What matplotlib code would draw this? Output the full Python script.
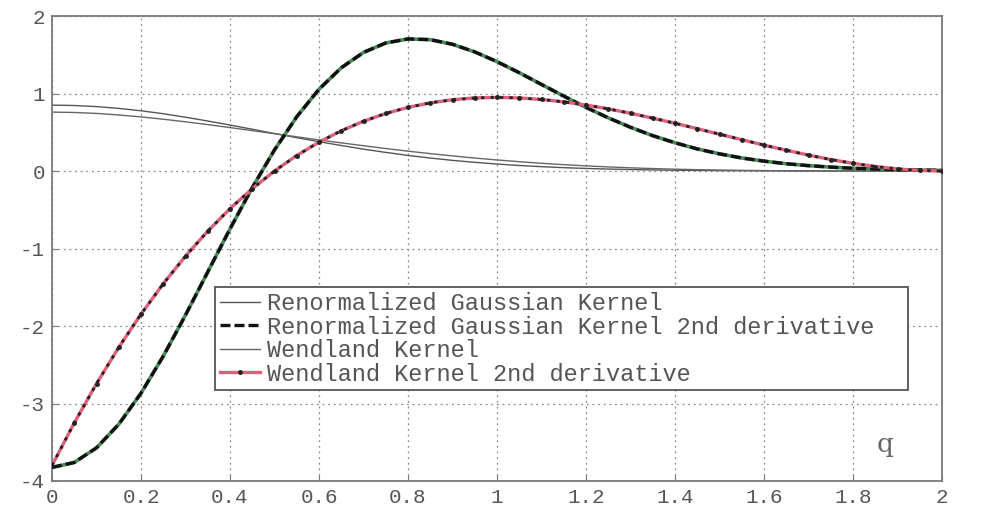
import matplotlib
matplotlib.use("Agg")
import matplotlib.pyplot as plt

# q values (read at 0.05 steps)
q = [0.00, 0.05, 0.10, 0.15, 0.20, 0.25, 0.30, 0.35, 0.40, 0.45,
     0.50, 0.55, 0.60, 0.65, 0.70, 0.75, 0.80, 0.85, 0.90, 0.95,
     1.00, 1.05, 1.10, 1.15, 1.20, 1.25, 1.30, 1.35, 1.40, 1.45,
     1.50, 1.55, 1.60, 1.65, 1.70, 1.75, 1.80, 1.85, 1.90, 1.95, 2.00]

gauss_kernel = [0.850, 0.845, 0.831, 0.808, 0.777, 0.739, 0.694, 0.645, 0.593, 0.539,
                0.484, 0.430, 0.378, 0.329, 0.282, 0.240, 0.201, 0.167, 0.137, 0.112,
                0.090, 0.071, 0.056, 0.043, 0.033, 0.025, 0.019, 0.014, 0.010, 0.007,
                0.005, 0.004, 0.003, 0.002, 0.001, 0.001, 0.001, 0.000, 0.000, 0.000, 0.000]

gauss_d2 = [-3.825, -3.761, -3.572, -3.268, -2.867, -2.389, -1.859, -1.303, -0.747, -0.215,
            0.272, 0.700, 1.055, 1.332, 1.530, 1.652, 1.704, 1.695, 1.635, 1.537,
            1.411, 1.268, 1.117, 0.966, 0.821, 0.686, 0.564, 0.456, 0.364, 0.285,
            0.221, 0.168, 0.127, 0.094, 0.069, 0.050, 0.035, 0.025, 0.017, 0.012, 0.008]

wend_kernel = [0.760, 0.755, 0.743, 0.723, 0.698, 0.668, 0.635, 0.599, 0.560, 0.521,
               0.481, 0.441, 0.401, 0.363, 0.326, 0.290, 0.256, 0.224, 0.195, 0.167,
               0.1425, 0.120, 0.0997, 0.0818, 0.0662, 0.0526, 0.0411, 0.0314, 0.0234, 0.0170,
               0.0119, 0.0080, 0.0051, 0.0031, 0.0017, 0.0008, 0.0004, 0.0001, 0.0, 0.0, 0.0]

wend_d2 = [-3.800, -3.251, -2.744, -2.276, -1.847, -1.455, -1.098, -0.776, -0.486, -0.228,
           0.000, 0.200, 0.372, 0.519, 0.642, 0.742, 0.821, 0.879, 0.920, 0.943,
           0.950, 0.943, 0.923, 0.892, 0.851, 0.802, 0.745, 0.682, 0.616, 0.546,
           0.475, 0.404, 0.334, 0.268, 0.205, 0.148, 0.099, 0.058, 0.027, 0.007, 0.000]

labels = ["Renormalized Gaussian Kernel",
          "Renormalized Gaussian Kernel 2nd derivative",
          "Wendland Kernel",
          "Wendland Kernel 2nd derivative"]

xticks = [0, 0.2, 0.4, 0.6, 0.8, 1, 1.2, 1.4, 1.6, 1.8, 2]
xticklabels = ["0", "0.2", "0.4", "0.6", "0.8", "1", "1.2", "1.4", "1.6", "1.8", "2"]
yticks = [-4, -3, -2, -1, 0, 1, 2]
yticklabels = ["-4", "-3", "-2", "-1", "0", "1", "2"]

mono = "Liberation Mono"

fig = plt.figure(figsize=(9.81, 5.09), dpi=100)
ax = fig.add_axes([52/981, 1 - 481/509, 890/981, 465/509])

# Gaussian kernel
h1, = ax.plot(q, gauss_kernel, color="#555555", lw=1.0)
# Gaussian 2nd derivative: green underline + black dashes
ax.plot(q, gauss_d2, color="#4a8a5a", lw=2.6, zorder=3)
h2, = ax.plot(q, gauss_d2, color="#111111", lw=2.4, dashes=(3.0, 1.2), zorder=4)
# Wendland kernel
h3, = ax.plot(q, wend_kernel, color="#666666", lw=1.0)
# Wendland 2nd derivative: red line with dense black dots
h4, = ax.plot(q, wend_d2, color="#e0607a", lw=2.4, marker=".", markersize=5,
              markerfacecolor="#222222", markeredgecolor="#222222", zorder=5)
ax.plot(q, wend_d2, color="#222222", lw=2.0, dashes=(1.2, 2.2), zorder=6)

ax.set_xlim(0, 2)
ax.set_ylim(-4, 2)
ax.set_xticks(xticks)
ax.set_xticklabels(xticklabels)
ax.set_yticks(yticks)
ax.set_yticklabels(yticklabels)
ax.grid(True, linestyle=(0, (1.5, 3)), color="#8a8a8a", lw=0.9)
ax.set_axisbelow(True)
for s in ax.spines.values():
    s.set_color("#7a7a7a")
    s.set_linewidth(1.3)
ax.tick_params(direction="in", length=4, color="#7a7a7a", labelcolor="#555555",
               labelsize=15, pad=5)
for lab in ax.get_xticklabels() + ax.get_yticklabels():
    lab.set_family(mono)

ax.text(0.936, 0.078, "q", transform=ax.transAxes, fontsize=19, color="#666666",
        family="DejaVu Serif", ha="center", va="center")

leg = ax.legend([h1, h2, h3, h4], labels, loc="lower left",
                bbox_to_anchor=(0.183, 0.195, 0.779, 0.2), mode="expand",
                prop={"family": mono, "size": 17},
                handlelength=1.7, handletextpad=0.3, labelspacing=0.02,
                borderpad=0.2, borderaxespad=0.0, fancybox=False, framealpha=1.0)
leg.get_frame().set_edgecolor("#555555")
leg.get_frame().set_linewidth(1.3)
for t in leg.get_texts():
    t.set_color("#555555")

fig.savefig("out.png", dpi=100)
